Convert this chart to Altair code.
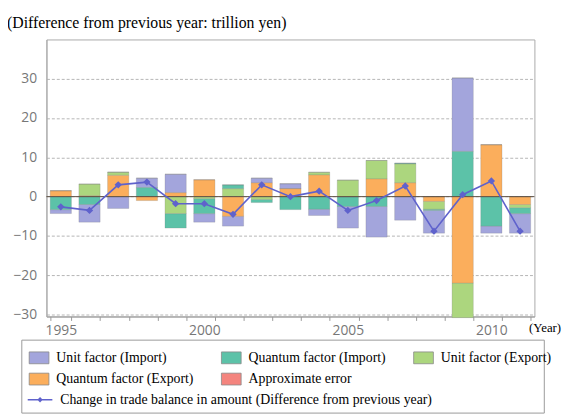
import altair as alt
import pandas as pd

years = [1995, 1996, 1997, 1998, 1999, 2000, 2001, 2002, 2003,
         2004, 2005, 2006, 2007, 2008, 2009, 2010, 2011]
unit_import = [-1.0, -4.5, -3.0, 2.4, 4.7, -2.2, -2.5, 1.2, 1.3,
               -1.6, -5.5, -7.8, -6.0, -5.8, 18.7, -1.8, -5.0]
quantum_import = [-3.3, -2.0, 0.0, 2.3, -3.7, -3.8, 1.0, -0.8, -3.3,
                  -3.2, -2.5, -2.5, 0.2, -0.3, 11.5, -7.5, -1.5]
unit_export = [0.0, 3.0, 0.8, 0.0, -4.3, -0.5, 2.0, -0.7, 0.0,
               0.7, 4.2, 4.7, 4.8, -2.0, -8.8, 0.0, -0.8]
quantum_export = [1.5, 0.2, 5.4, -1.0, 1.0, 4.3, -5.0, 3.5, 2.0,
                  5.5, 0.0, 4.5, 3.5, -1.2, -22.0, 13.2, -2.0]
approx_error = [0.0, 0.0, 0.0, 0.0, 0.0, 0.0, 0.0, 0.0, 0.0,
                0.0, 0.0, 0.0, 0.0, 0.0, 0.0, 0.0, 0.0]
trade_balance_change = [-2.6, -3.5, 3.0, 3.7, -1.8, -1.8, -4.5, 3.0, 0.0,
                        1.4, -3.5, -1.0, 2.7, -8.8, 0.5, 4.0, -8.8]

series_names = ["Unit factor (Import)", "Quantum factor (Import)",
                "Unit factor (Export)", "Quantum factor (Export)",
                "Approximate error"]
series_colors = ["#a3a5dc", "#5cc2a8", "#acd67e", "#fbae5c", "#f4847e"]
stack_rank = [3, 2, 1, 0, 4]
line_name = "Change in trade balance in amount (Difference from previous year)"
line_color = "#5f62cc"

series_values = [unit_import, quantum_import, unit_export, quantum_export, approx_error]
rows = []
for name, rank, vals in zip(series_names, stack_rank, series_values):
    for yr, v in zip(years, vals):
        rows.append({"year": yr, "series": name, "value": v, "rank": rank})
bars_df = pd.DataFrame(rows)
line_df = pd.DataFrame({"year": years, "value": trade_balance_change,
                        "label": [line_name] * len(years)})

serif = "Liberation Serif"
sans = "Open Sans"

x_enc = alt.X("year:O",
              scale=alt.Scale(paddingInner=0.26, paddingOuter=0.13),
              axis=alt.Axis(title="(Year)", labelExpr="datum.value % 5 == 0 ? datum.label : ''",
                            labelAngle=0, labelFont=sans, labelFontSize=14, labelColor="#777",
                            labelPadding=3, tickBand="extent", tickSize=4, tickColor="#999",
                            domainColor="#999", grid=False,
                            titleFont=serif, titleFontSize=13, titleFontWeight="normal",
                            titleColor="#000", titleX=489, titleY=15, titleAlign="left",
                            titleBaseline="alphabetic"))
y_scale = alt.Scale(domain=[-30.5, 40], nice=False, zero=False)

bars = alt.Chart(bars_df).mark_bar(stroke="#777", strokeWidth=0.4, strokeOpacity=0.6).encode(
    x=x_enc,
    y=alt.Y("value:Q", stack="zero", scale=y_scale,
            axis=alt.Axis(values=[-30, -20, -10, 0, 10, 20, 30], title=None, grid=True,
                          gridDash=[3, 2], gridColor="#b5b5b5", ticks=False,
                          domainColor="#aaa", labelFont=sans, labelFontSize=14,
                          labelColor="#777", labelPadding=10)),
    color=alt.Color("series:N",
                    scale=alt.Scale(domain=series_names, range=series_colors),
                    legend=alt.Legend(orient="none", legendX=-18, legendY=312, title=None,
                                      direction="horizontal",
                                      columns=3, gridAlign="each", columnPadding=25,
                                      rowPadding=3, labelFont=serif, labelFontSize=14,
                                      labelColor="#000", labelOffset=7, labelLimit=300,
                                      symbolType="M-1,-0.6H1V0.6H-1Z", symbolSize=400,
                                      symbolStrokeColor="#888", symbolStrokeWidth=0.8,
                                      padding=0)),
    order=alt.Order("rank:Q", sort="ascending"),
)

zero_rule = alt.Chart(pd.DataFrame({"v": [0]})).mark_rule(color="#5c4e42", strokeWidth=1).encode(
    y=alt.Y("v:Q", scale=y_scale)
)

line = alt.Chart(line_df).mark_line(color=line_color, strokeWidth=1.6).encode(
    x=alt.X("year:O"),
    y=alt.Y("value:Q", scale=y_scale),
)

points = alt.Chart(line_df).mark_point(filled=True, shape="diamond", size=55, opacity=1).encode(
    x=alt.X("year:O"),
    y=alt.Y("value:Q", scale=y_scale),
    fill=alt.Fill("label:N", scale=alt.Scale(domain=[line_name], range=[line_color]),
                  legend=alt.Legend(orient="none", legendX=-20, legendY=352, title=None,
                                    labelFont=serif, labelFontSize=14, labelColor="#000",
                                    labelOffset=7, labelLimit=500, padding=0,
                                    symbolType="M-1,-0.06H1V0.06H-1Z M-0.22,0L0,-0.22L0.22,0L0,0.22Z",
                                    symbolSize=625)),
)

frame = alt.Chart(pd.DataFrame({"k": [0]})).mark_rect(
    fill="transparent", stroke="#999", strokeWidth=1
).encode(x=alt.value(-25), x2=alt.value(505), y=alt.value(305), y2=alt.value(379))

chart = alt.layer(bars, zero_rule, line, points, frame).resolve_scale(
    color="independent"
).properties(
    width=495, height=281,
    autosize=alt.AutoSizeParams(type="none"),
    padding={"left": 39, "top": 29, "right": 30, "bottom": 96},
    title=alt.TitleParams("(Difference from previous year: trillion yen)", anchor="start",
                          frame="group", dx=-40, offset=9, font=serif, fontSize=16,
                          fontWeight="normal", color="#000"),
).configure_view(stroke="#aaa")

chart.save("out.html", embed_options={"renderer": "svg", "actions": False})
